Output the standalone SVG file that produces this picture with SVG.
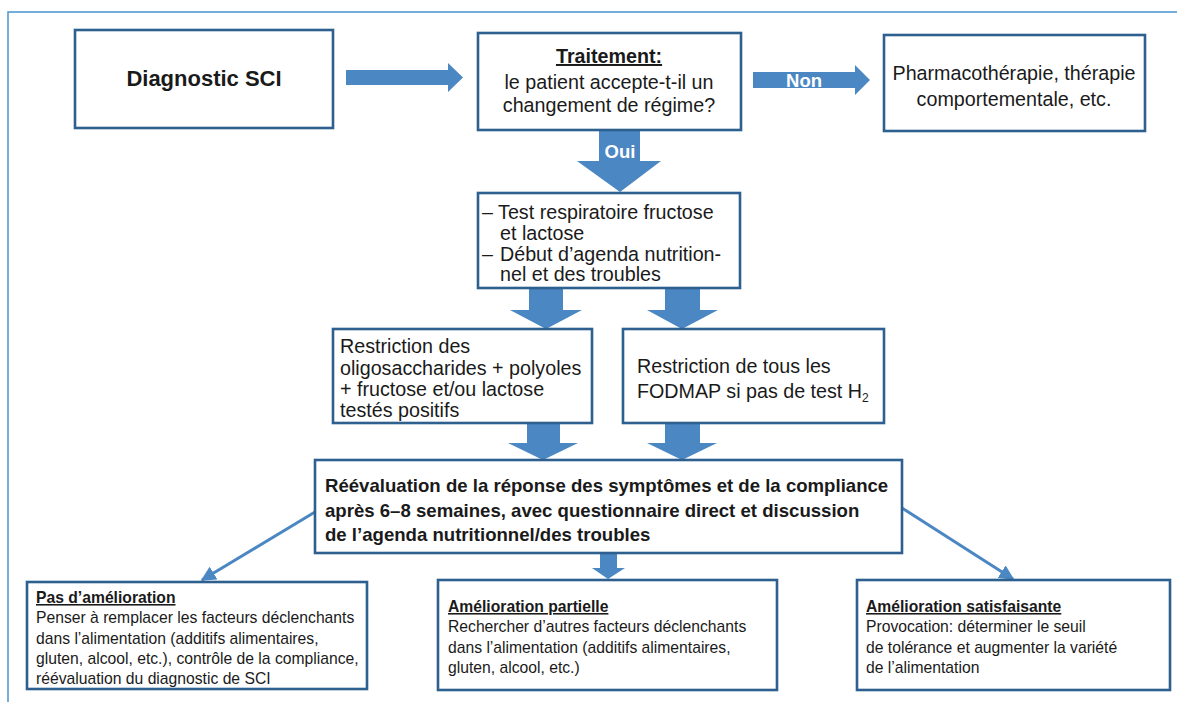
<svg xmlns="http://www.w3.org/2000/svg" width="1177" height="702" viewBox="0 0 1177 702">
<style>
.box{fill:#fff;stroke:#2d5f8f;stroke-width:2.6}
.blk{fill:#4b87c2}
.ln{stroke:#4b87c2;stroke-width:3;fill:none}
.t{font-family:"Liberation Sans",Arial,sans-serif;fill:#1a1a1a}
.m{font-size:19.7px}
.bm{font-size:18.6px;font-weight:bold}
.s{font-size:15.7px}
.b{font-weight:bold}
.w{fill:#fff;font-weight:bold;font-family:"Liberation Sans",Arial,sans-serif;font-size:18.5px}
</style>
<defs>
<marker id="ah" viewBox="0 0 10 10" refX="9" refY="5" markerWidth="5" markerHeight="5" orient="auto" markerUnits="strokeWidth">
<path d="M0,0 L10,5 L0,10 z" fill="#4b87c2"/>
</marker>
</defs>
<rect width="1177" height="702" fill="#fff"/>
<path d="M8,702 V12 H1177" fill="none" stroke="#4a94d0" stroke-width="1.5"/>

<g id="connectors">
<polygon class="blk" points="346,70 448,70 448,63 463,77.5 448,92 448,85 346,85"/>
<polygon class="blk" points="753,72 855,72 855,65 870,80 855,95 855,88 753,88"/>
<text class="w" x="804" y="87" text-anchor="middle">Non</text>
<polygon class="blk" points="599,130 640,130 640,161 661,161 620,192 577,161 599,161"/>
<text class="w" x="620" y="158" text-anchor="middle">Oui</text>
<polygon class="blk" points="529,288 563,288 563,310 582,310 546,329 510,310 529,310"/>
<polygon class="blk" points="665,288 700,288 700,310 718,310 682,329 647,310 665,310"/>
<polygon class="blk" points="527,423 560,423 560,443 578,443 543,460 508,443 527,443"/>
<polygon class="blk" points="665,423 700,423 700,443 717,443 682,460 647,443 665,443"/>
<polygon class="blk" points="600,553 617,553 617,568 625,568 608,579 592,568 600,568"/>
<line class="ln" x1="315" y1="512" x2="202" y2="580" marker-end="url(#ah)"/>
<line class="ln" x1="902" y1="508" x2="1013" y2="579" marker-end="url(#ah)"/>
</g>

<g id="n1">
<rect class="box" x="75" y="30" width="258" height="98"/>
<text class="t b" x="204" y="86" text-anchor="middle" font-size="22">Diagnostic SCI</text>
</g>
<g id="n2">
<rect class="box" x="478" y="33" width="263" height="97"/>
<text class="t m b" x="609" y="63" text-anchor="middle" text-decoration="underline">Traitement:</text>
<text class="t m" x="609" y="89" text-anchor="middle">le patient accepte-t-il un</text>
<text class="t m" x="609" y="112" text-anchor="middle">changement de régime?</text>
</g>
<g id="n3">
<rect class="box" x="884" y="35" width="261" height="96"/>
<text class="t m" x="1014" y="80" text-anchor="middle">Pharmacothérapie, thérapie</text>
<text class="t m" x="1014" y="106" text-anchor="middle">comportementale, etc.</text>
</g>
<g id="n4">
<rect class="box" x="478" y="193" width="262" height="95"/>
<text class="t m" x="482" y="219">– Test respiratoire fructose</text>
<text class="t m" x="500" y="240">et lactose</text>
<text class="t m" x="482" y="261">–</text>
<text class="t m" x="500" y="261">Début d’agenda nutrition-</text>
<text class="t m" x="500" y="281">nel et des troubles</text>
</g>
<g id="n5">
<rect class="box" x="333" y="329" width="259" height="94"/>
<text class="t m" x="340" y="353">Restriction des</text>
<text class="t m" x="340" y="375">oligosaccharides + polyoles</text>
<text class="t m" x="340" y="396">+ fructose et/ou lactose</text>
<text class="t m" x="340" y="417">testés positifs</text>
</g>
<g id="n6">
<rect class="box" x="623" y="329" width="261" height="94"/>
<text class="t m" x="637" y="373">Restriction de tous les</text>
<text class="t m" x="637" y="398">FODMAP si pas de test H<tspan font-size="12" dy="4">2</tspan></text>
</g>
<g id="n7">
<rect class="box" x="315" y="460" width="587" height="93"/>
<text class="t bm" x="325" y="492">Réévaluation de la réponse des symptômes et de la compliance</text>
<text class="t bm" x="325" y="517">après 6–8 semaines, avec questionnaire direct et discussion</text>
<text class="t bm" x="325" y="541">de l’agenda nutritionnel/des troubles</text>
</g>
<g id="n8">
<rect class="box" x="27" y="582" width="340" height="107"/>
<text class="t s b" x="36" y="603" text-decoration="underline">Pas d’amélioration</text>
<text class="t s" x="36" y="623">Penser à remplacer les facteurs déclenchants</text>
<text class="t s" x="36" y="644">dans l’alimentation (additifs alimentaires,</text>
<text class="t s" x="36" y="664">gluten, alcool, etc.), contrôle de la compliance,</text>
<text class="t s" x="36" y="684">réévaluation du diagnostic de SCI</text>
</g>
<g id="n9">
<rect class="box" x="438" y="580" width="339" height="110"/>
<text class="t s b" x="448" y="612" text-decoration="underline">Amélioration partielle</text>
<text class="t s" x="448" y="632">Rechercher d’autres facteurs déclenchants</text>
<text class="t s" x="448" y="653">dans l’alimentation (additifs alimentaires,</text>
<text class="t s" x="448" y="673">gluten, alcool, etc.)</text>
</g>
<g id="n10">
<rect class="box" x="857" y="580" width="313" height="110"/>
<text class="t s b" x="866" y="612" text-decoration="underline">Amélioration satisfaisante</text>
<text class="t s" x="866" y="632">Provocation: déterminer le seuil</text>
<text class="t s" x="866" y="653">de tolérance et augmenter la variété</text>
<text class="t s" x="866" y="673">de l’alimentation</text>
</g>
</svg>
